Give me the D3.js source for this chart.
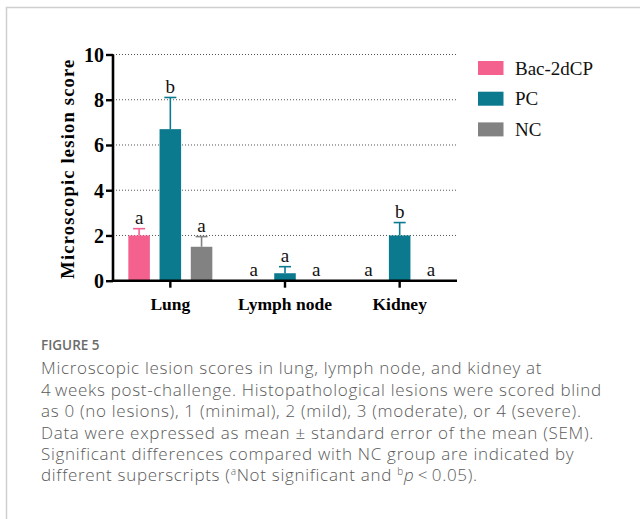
<!DOCTYPE html>
<html>
<head>
<meta charset="utf-8">
<script src="https://cdn.jsdelivr.net/npm/d3@7"></script>
<style>
  body { margin: 0; background: #fff; }
  svg { display: block; }
</style>
</head>
<body>
<div id="chart"></div>
<script>
// data
let tissues = ["Lung", "Lymph node", "Kidney"];
let groups = ["Bac-2dCP", "PC", "NC"];
let groupColors = ["#f4618f", "#0b7a8f", "#828282"];
// mean per tissue, one array per group
let bacMean = [2.0, 0, 0];
let pcMean = [6.7, 0.33, 2.0];
let ncMean = [1.5, 0, 0];
// upper end of the error bar (mean + SEM)
let bacErr = [2.3, 0, 0];
let pcErr = [8.1, 0.62, 2.57];
let ncErr = [1.95, 0, 0];
// significance letters
let bacLetters = ["a", "a", "a"];
let pcLetters = ["b", "a", "b"];
let ncLetters = ["a", "a", "a"];
let yTicks = [0, 2, 4, 6, 8, 10];

let captionTitle = "FIGURE 5";
let captionLines = [
    "Microscopic lesion scores in lung, lymph node, and kidney at",
    "4\u2009weeks post-challenge. Histopathological lesions were scored blind",
    "as 0 (no lesions), 1 (minimal), 2 (mild), 3 (moderate), or 4 (severe).",
    "Data were expressed as mean \u00b1 standard error of the mean (SEM).",
    "Significant differences compared with NC group are indicated by"
];

let width = 640, height = 519;
let svg = d3.select('#chart').append('svg')
    .attr('width', width)
    .attr('height', height);

// frame around the figure (runs off right/bottom)
svg.append('rect')
    .attr('x', 6.5).attr('y', 7.5)
    .attr('width', 700).attr('height', 600)
    .attr('fill', 'none')
    .attr('stroke', '#cfcfcf')
    .attr('stroke-width', 1.5);

let plotLeft = 113, plotRight = 457, plotTop = 54.5, plotBottom = 280.7;

let x0 = d3.scaleBand()
    .domain(tissues)
    .range([plotLeft, plotRight])
    .padding(0);

let x1 = d3.scaleBand()
    .domain(groups)
    .range([-42, 42])
    .paddingInner(0.31)
    .paddingOuter(0);

let y = d3.scaleLinear()
    .domain([0, 10])
    .range([plotBottom, plotTop]);

let serif = "'Liberation Serif', 'Times New Roman', serif";

// dotted gridlines
svg.append('g')
    .selectAll('line')
    .data(yTicks.filter(function (d) { return d > 0; }))
    .enter()
    .append('line')
    .attr('x1', plotLeft).attr('x2', plotRight)
    .attr('y1', function (d) { return y(d); })
    .attr('y2', function (d) { return y(d); })
    .attr('stroke', '#555')
    .attr('stroke-width', 1)
    .attr('stroke-dasharray', '1,2');

// build rows
let means = [bacMean, pcMean, ncMean];
let errs = [bacErr, pcErr, ncErr];
let letters = [bacLetters, pcLetters, ncLetters];
let rows = [];
tissues.forEach(function (t, ti) {
    groups.forEach(function (g, gi) {
        rows.push({
            tissue: t, group: g, gi: gi,
            value: means[gi][ti], err: errs[gi][ti], letter: letters[gi][ti]
        });
    });
});

function cx(d) { return x0(d.tissue) + x0.bandwidth() / 2 + x1(d.group) + x1.bandwidth() / 2; }

let barG = svg.append('g');

barG.selectAll('rect')
    .data(rows.filter(function (d) { return d.value > 0; }))
    .enter()
    .append('rect')
    .attr('x', function (d) { return cx(d) - x1.bandwidth() / 2; })
    .attr('width', x1.bandwidth())
    .attr('y', function (d) { return y(d.value); })
    .attr('height', function (d) { return y(0) - y(d.value); })
    .attr('fill', function (d) { return groupColors[d.gi]; });

// error bars (upper whisker only)
let errRows = rows.filter(function (d) { return d.err > d.value; });
barG.selectAll('line.err')
    .data(errRows)
    .enter()
    .append('line')
    .attr('class', 'err')
    .attr('x1', cx).attr('x2', cx)
    .attr('y1', function (d) { return y(d.value); })
    .attr('y2', function (d) { return y(d.err); })
    .attr('stroke', function (d) { return groupColors[d.gi]; })
    .attr('stroke-width', 1.6);

barG.selectAll('line.cap')
    .data(errRows)
    .enter()
    .append('line')
    .attr('class', 'cap')
    .attr('x1', function (d) { return cx(d) - 6; })
    .attr('x2', function (d) { return cx(d) + 6; })
    .attr('y1', function (d) { return y(d.err); })
    .attr('y2', function (d) { return y(d.err); })
    .attr('stroke', function (d) { return groupColors[d.gi]; })
    .attr('stroke-width', 1.6);

// letters
svg.append('g')
    .selectAll('text')
    .data(rows)
    .enter()
    .append('text')
    .attr('x', cx)
    .attr('y', function (d) { return y(Math.max(d.err, d.value)) - 4.5; })
    .attr('text-anchor', 'middle')
    .style('font-family', serif)
    .style('font-size', '19px')
    .attr('fill', '#111')
    .text(function (d) { return d.letter; });

// axes
let yAxis = svg.append('g')
    .attr('transform', 'translate(' + plotLeft + ',0)')
    .call(d3.axisLeft(y).tickValues(yTicks).tickSize(7).tickPadding(2).tickSizeOuter(0));

let xAxis = svg.append('g')
    .attr('transform', 'translate(0,' + plotBottom + ')')
    .call(d3.axisBottom(x0).tickSize(7).tickPadding(10).tickSizeOuter(0));

[yAxis, xAxis].forEach(function (ax) {
    ax.select('.domain').attr('stroke', '#000').attr('stroke-width', 2.6);
    ax.selectAll('.tick line').attr('stroke', '#000').attr('stroke-width', 2.4);
    ax.selectAll('.tick text')
        .style('font-family', serif)
        .style('font-weight', 'bold')
        .attr('fill', '#000');
});
yAxis.selectAll('.tick text').style('font-size', '20px').attr('dy', '0.34em');
xAxis.selectAll('.tick text').style('font-size', '17.5px').attr('dy', '0.71em');
// extend x domain line to meet y axis
xAxis.select('.domain').attr('d', 'M' + (plotLeft - 1.3) + ',0H' + plotRight);
yAxis.select('.domain').attr('d', 'M0,' + (plotTop) + 'V' + (plotBottom + 1.3));

svg.append('text')
    .attr('transform', 'translate(74,' + ((plotTop + plotBottom) / 2 + 1) + ')rotate(-90)')
    .attr('text-anchor', 'middle')
    .style('font-family', serif)
    .style('font-weight', 'bold')
    .style('font-size', '18.5px')
    .style('letter-spacing', '1.2px')
    .attr('fill', '#000')
    .text('Microscopic lesion score');

// legend
let legend = svg.append('g')
    .selectAll('g')
    .data(groups)
    .enter()
    .append('g')
    .attr('transform', function (d, i) { return 'translate(478,' + (68 + i * 30.7) + ')'; });

legend.append('rect')
    .attr('x', 0).attr('y', -7)
    .attr('width', 25.5).attr('height', 14)
    .attr('fill', function (d, i) { return groupColors[i]; });

legend.append('text')
    .attr('x', 37).attr('y', 6.5)
    .style('font-family', serif)
    .style('font-size', '19px')
    .attr('fill', '#111')
    .text(function (d) { return d; });

// caption
let sans = "'Open Sans', 'Noto Sans', sans-serif";
svg.append('text')
    .attr('x', 41).attr('y', 350)
    .style('font-family', sans)
    .style('font-weight', 600)
    .style('font-size', '13.5px')
    .attr('fill', '#6b6b6b')
    .text(captionTitle);

let cap = svg.append('g')
    .style('font-family', sans)
    .style('font-size', '17px')
    .style('font-weight', 300)
    .style('letter-spacing', '0.7px')
    .attr('fill', '#5a5a5a');

cap.selectAll('text.line')
    .data(captionLines)
    .enter()
    .append('text')
    .attr('class', 'line')
    .attr('x', 41)
    .attr('y', function (d, i) { return 374.3 + i * 21.4; })
    .text(function (d) { return d; });

let last = cap.append('text')
    .attr('x', 41)
    .attr('y', 374.3 + 5 * 21.4);
last.append('tspan').text('different superscripts (');
last.append('tspan').attr('dy', -6).style('font-size', '10px').text('a');
last.append('tspan').attr('dy', 6).text('Not significant and ');
last.append('tspan').attr('dy', -6).style('font-size', '10px').text('b');
last.append('tspan').attr('dy', 6).style('font-style', 'italic').text('p');
last.append('tspan').text('\u2009<\u20090.05).');
</script>
</body>
</html>
